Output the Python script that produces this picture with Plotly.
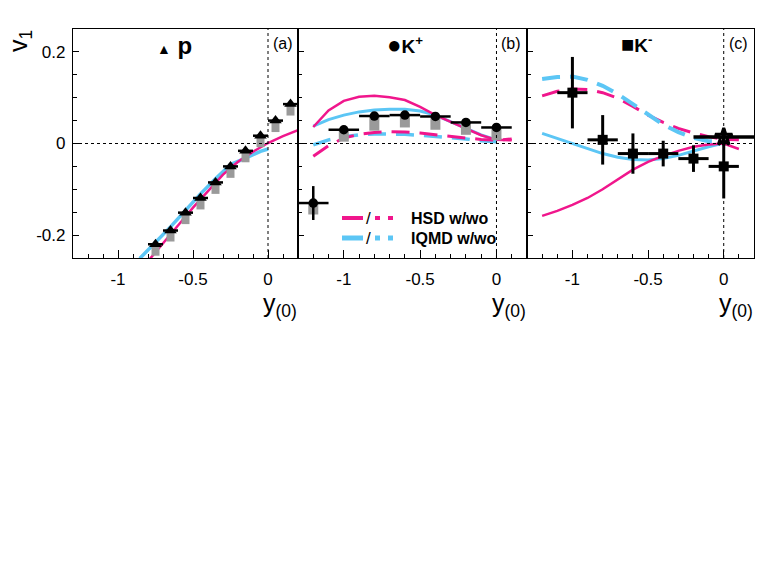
import numpy as np
import plotly.graph_objects as go
from plotly.subplots import make_subplots

# colours
HSD = "#f0168c"
IQMD = "#5cc6f5"
GREY = "#9a9a9a"

# ---- panel (a): protons
p_y = np.array([-0.75, -0.65, -0.55, -0.45, -0.35, -0.25, -0.15, -0.05, 0.05, 0.15])
p_v1 = np.array([-0.220, -0.190, -0.151, -0.119, -0.085, -0.050, -0.016, 0.017, 0.050, 0.086])
p_sys = np.array([0.025, 0.024, 0.025, 0.025, 0.025, 0.025, 0.025, 0.025, 0.025, 0.025])
p_ex = 0.05

hsd_a_y = [-0.79, -0.7, -0.6, -0.5, -0.4, -0.3, -0.2, -0.1, 0.0, 0.1, 0.2]
hsd_a_v = [-0.253, -0.217, -0.179, -0.140, -0.104, -0.068, -0.040, -0.018, 0.001, 0.016, 0.029]
iq_a_y = [-0.855, -0.75, -0.65, -0.55, -0.45, -0.35, -0.25, -0.15, -0.05, 0.0]
iq_a_v = [-0.251, -0.216, -0.182, -0.146, -0.110, -0.077, -0.046, -0.032, -0.017, -0.012]

# ---- panel (b): K+
kp_y = np.array([-1.2, -1.0, -0.8, -0.6, -0.4, -0.2, 0.0])
kp_v1 = np.array([-0.130, 0.030, 0.060, 0.062, 0.059, 0.046, 0.035])
kp_err = [0.037, 0.006, 0.006, 0.006, 0.006, 0.006, 0.006]
kp_sys = np.array([0.025, 0.026, 0.032, 0.027, 0.029, 0.027, 0.028])
kp_ex = 0.1

b_y = [-1.2, -1.1, -1.0, -0.9, -0.8, -0.7, -0.6, -0.5, -0.4, -0.3, -0.2, -0.1, 0.0, 0.1]
hsd_b_w = [0.036, 0.072, 0.093, 0.102, 0.104, 0.101, 0.095, 0.080, 0.062, 0.047, 0.033, 0.018, 0.008, 0.007]
hsd_b_wo = [-0.028, -0.005, 0.012, 0.020, 0.024, 0.026, 0.025, 0.023, 0.019, 0.015, 0.012, 0.009, 0.007, 0.010]
iq_b_w = [0.038, 0.052, 0.062, 0.069, 0.073, 0.075, 0.075, 0.071, 0.062, 0.048, 0.033, 0.019, 0.008]
iq_b_wo = [-0.003, 0.008, 0.015, 0.019, 0.021, 0.021, 0.020, 0.018, 0.016, 0.013, 0.010, 0.006, 0.004]

# ---- panel (c): K-
km_y = [-1.0, -0.8, -0.6, -0.4, -0.2, 0.0]
km_v1 = [0.111, 0.008, -0.022, -0.022, -0.033, -0.050]
km_err = [0.078, 0.054, 0.044, 0.028, 0.029, 0.070]
km_ex = 0.1
star_y, star_v1, star_ex, star_err = [0.0], [0.014], 0.2, 0.018

c_y = [-1.2, -1.1, -1.0, -0.9, -0.8, -0.7, -0.6, -0.5, -0.4, -0.3, -0.2, -0.1, 0.0, 0.1]
hsd_c_w = [-0.158, -0.147, -0.134, -0.119, -0.100, -0.078, -0.057, -0.040, -0.027, -0.016, -0.007, -0.002, 0.000, -0.012]
hsd_c_wo = [0.104, 0.114, 0.119, 0.118, 0.111, 0.099, 0.081, 0.062, 0.046, 0.033, 0.023, 0.015, 0.009, 0.008]
iq_c_w = [0.022, 0.011, 0.000, -0.012, -0.022, -0.030, -0.035, -0.036, -0.033, -0.026, -0.016, -0.007, 0.001]
iq_c_wo = [0.141, 0.145, 0.146, 0.139, 0.126, 0.108, 0.086, 0.063, 0.041, 0.025, 0.012, 0.005, 0.004]

x_ticks = [-1, -0.5, 0]
x_labels = ["-1", "-0.5", "0"]
y_ticks = [-0.2, 0, 0.2]
y_labels = ["-0.2", "0", "0.2"]

fig = make_subplots(rows=1, cols=3, shared_yaxes=True, horizontal_spacing=0,
                    column_widths=[225, 229, 227])


def curve(x, y, color, width, col, dash="solid"):
    fig.add_trace(go.Scatter(x=x, y=y, mode="lines", line=dict(color=color, width=width, dash=dash),
                             showlegend=False, hoverinfo="skip"), row=1, col=col)


def sysbox(x, v, s, px, col):
    # grey systematic box below the point, drawn as a thick error bar
    fig.add_trace(go.Scatter(x=x, y=v - s / 2, mode="markers", marker=dict(size=1, opacity=0),
                             error_y=dict(type="data", array=s / 2, color=GREY, thickness=px, width=0),
                             showlegend=False, hoverinfo="skip"), row=1, col=col)


def points(x, v, ex, ey, symbol, size, thick, col, line=None):
    fig.add_trace(go.Scatter(x=x, y=v, mode="markers",
                             marker=dict(symbol=symbol, size=size, color="black",
                                         line=line or dict(width=0)),
                             error_x=dict(type="constant", value=ex, color="black", thickness=thick, width=0),
                             error_y=dict(type="data", array=ey, color="black", thickness=thick, width=0),
                             showlegend=False), row=1, col=col)


# (a)
curve(iq_a_y, iq_a_v, IQMD, 3.5, 1)
curve(hsd_a_y, hsd_a_v, HSD, 2.5, 1)
sysbox(p_y, p_v1, p_sys, 8, 1)
points(p_y, p_v1, p_ex, [0] * len(p_y), "triangle-up", 11, 2.5, 1)

# (b)
curve(b_y[:len(iq_b_w)], iq_b_w, IQMD, 3, 2)
curve(b_y, hsd_b_w, HSD, 2.5, 2)
curve(b_y[:len(iq_b_wo)], iq_b_wo, IQMD, 3.5, 2, dash="18px,10px")
curve(b_y, hsd_b_wo, HSD, 3, 2, dash="18px,10px")
sysbox(kp_y, kp_v1, kp_sys, 10, 2)
points(kp_y, kp_v1, kp_ex, kp_err, "circle", 9.5, 2.5, 2)

# (c)
curve(c_y[:len(iq_c_w)], iq_c_w, IQMD, 3, 3)
curve(c_y, hsd_c_w, HSD, 2.5, 3)
curve(c_y, hsd_c_wo, HSD, 3, 3, dash="18px,10px")
curve(c_y[:len(iq_c_wo)], iq_c_wo, IQMD, 4, 3, dash="18px,10px")
points(km_y, km_v1, km_ex, km_err, "square", 10, 3, 3)
points(star_y, star_v1, star_ex, [star_err], "star-open", 13, 3.5, 3,
       line=dict(width=3, color="black"))

axis_font = dict(family="Liberation Sans, Arial, sans-serif", size=17, color="black")
for i in range(1, 4):
    fig.update_xaxes(range=[-1.3, 0.2], tickvals=x_ticks, ticktext=x_labels, ticks="inside",
                     ticklen=8, tickwidth=1, tickcolor="black", showline=True, linecolor="black",
                     linewidth=1.3, mirror=True, showgrid=False, zeroline=False, tickfont=axis_font,
                     ticklabelstandoff=5,
                     minor=dict(tickmode="linear", tick0=0, dtick=0.1, ticks="inside", ticklen=4,
                                tickcolor="black", showgrid=False),
                     row=1, col=i)
    fig.update_yaxes(range=[-0.25, 0.25], tickvals=y_ticks, ticktext=y_labels, ticks="inside",
                     ticklen=6, tickwidth=1, tickcolor="black", showline=True, linecolor="black",
                     linewidth=1.3, mirror=True, showgrid=False, zeroline=False, tickfont=axis_font,
                     ticklabelstandoff=3, showticklabels=(i == 1),
                     minor=dict(tickmode="linear", tick0=0, dtick=0.05, ticks="inside", ticklen=4,
                                tickcolor="black", showgrid=False),
                     row=1, col=i)
    fig.add_hline(y=0, line=dict(color="black", width=1, dash="dot"), row=1, col=i)
    fig.add_vline(x=0, line=dict(color="black", width=1, dash="dot"), row=1, col=i)

# page body adds an 8px offset, so margins are shifted by that much
OFF = 8
W, H, L, R, T, B = 763, 572, 73 - OFF, 9 + OFF, 29 - OFF, 314 + OFF


def px(xp):
    return (xp - OFF - L) / (W - L - R)


def py(yp):
    return (H - B - (yp - OFF)) / (H - T - B)


txt = dict(family="Liberation Sans, Arial, sans-serif", color="black")
ann = []


def note(x, y, text, size, xanchor="center", yanchor="middle", **kw):
    ann.append(dict(x=px(x), y=py(y), xref="paper", yref="paper", text=text, showarrow=False,
                    xanchor=xanchor, yanchor=yanchor, font=dict(size=size, **txt), **kw))


note(20, 41, "v<sub>1</sub>", 25, textangle=-90)
for right in (299, 528, 755):
    note(right, 287, "y<sub>(0)</sub>", 25, xanchor="right", yanchor="top")
for xc, t in ((283, "(a)"), (511, "(b)"), (738, "(c)")):
    note(xc, 43, t, 16)
note(174, 46, "<span style='font-size:14px'>▲</span> <b>p</b>", 24)
note(405, 44, "<span style='font-size:24px'>●</span><b>K<sup>+</sup></b>", 19)
note(636, 44, "<span style='font-size:22px'>■</span><b>K<sup>-</sup></b>", 19)

# legend drawn by hand inside panel (b)
shapes = []
for yrow, col, lw, name in ((218, HSD, 4, "HSD w/wo"), (238, IQMD, 5, "IQMD w/wo")):
    for x0, x1 in ((342, 363), (375, 380), (388, 393)):
        shapes.append(dict(type="line", xref="paper", yref="paper", x0=px(x0), x1=px(x1),
                           y0=py(yrow), y1=py(yrow), line=dict(color=col, width=lw)))
    note(368, yrow, "/", 17)
    note(409, yrow, "<b>%s</b>" % name, 16, xanchor="left")

fig.update_layout(width=W, height=H, margin=dict(l=L, r=R, t=T, b=B),
                  plot_bgcolor="white", paper_bgcolor="white", showlegend=False,
                  annotations=ann, shapes=list(fig.layout.shapes) + shapes)

fig.write_html("out.html")
